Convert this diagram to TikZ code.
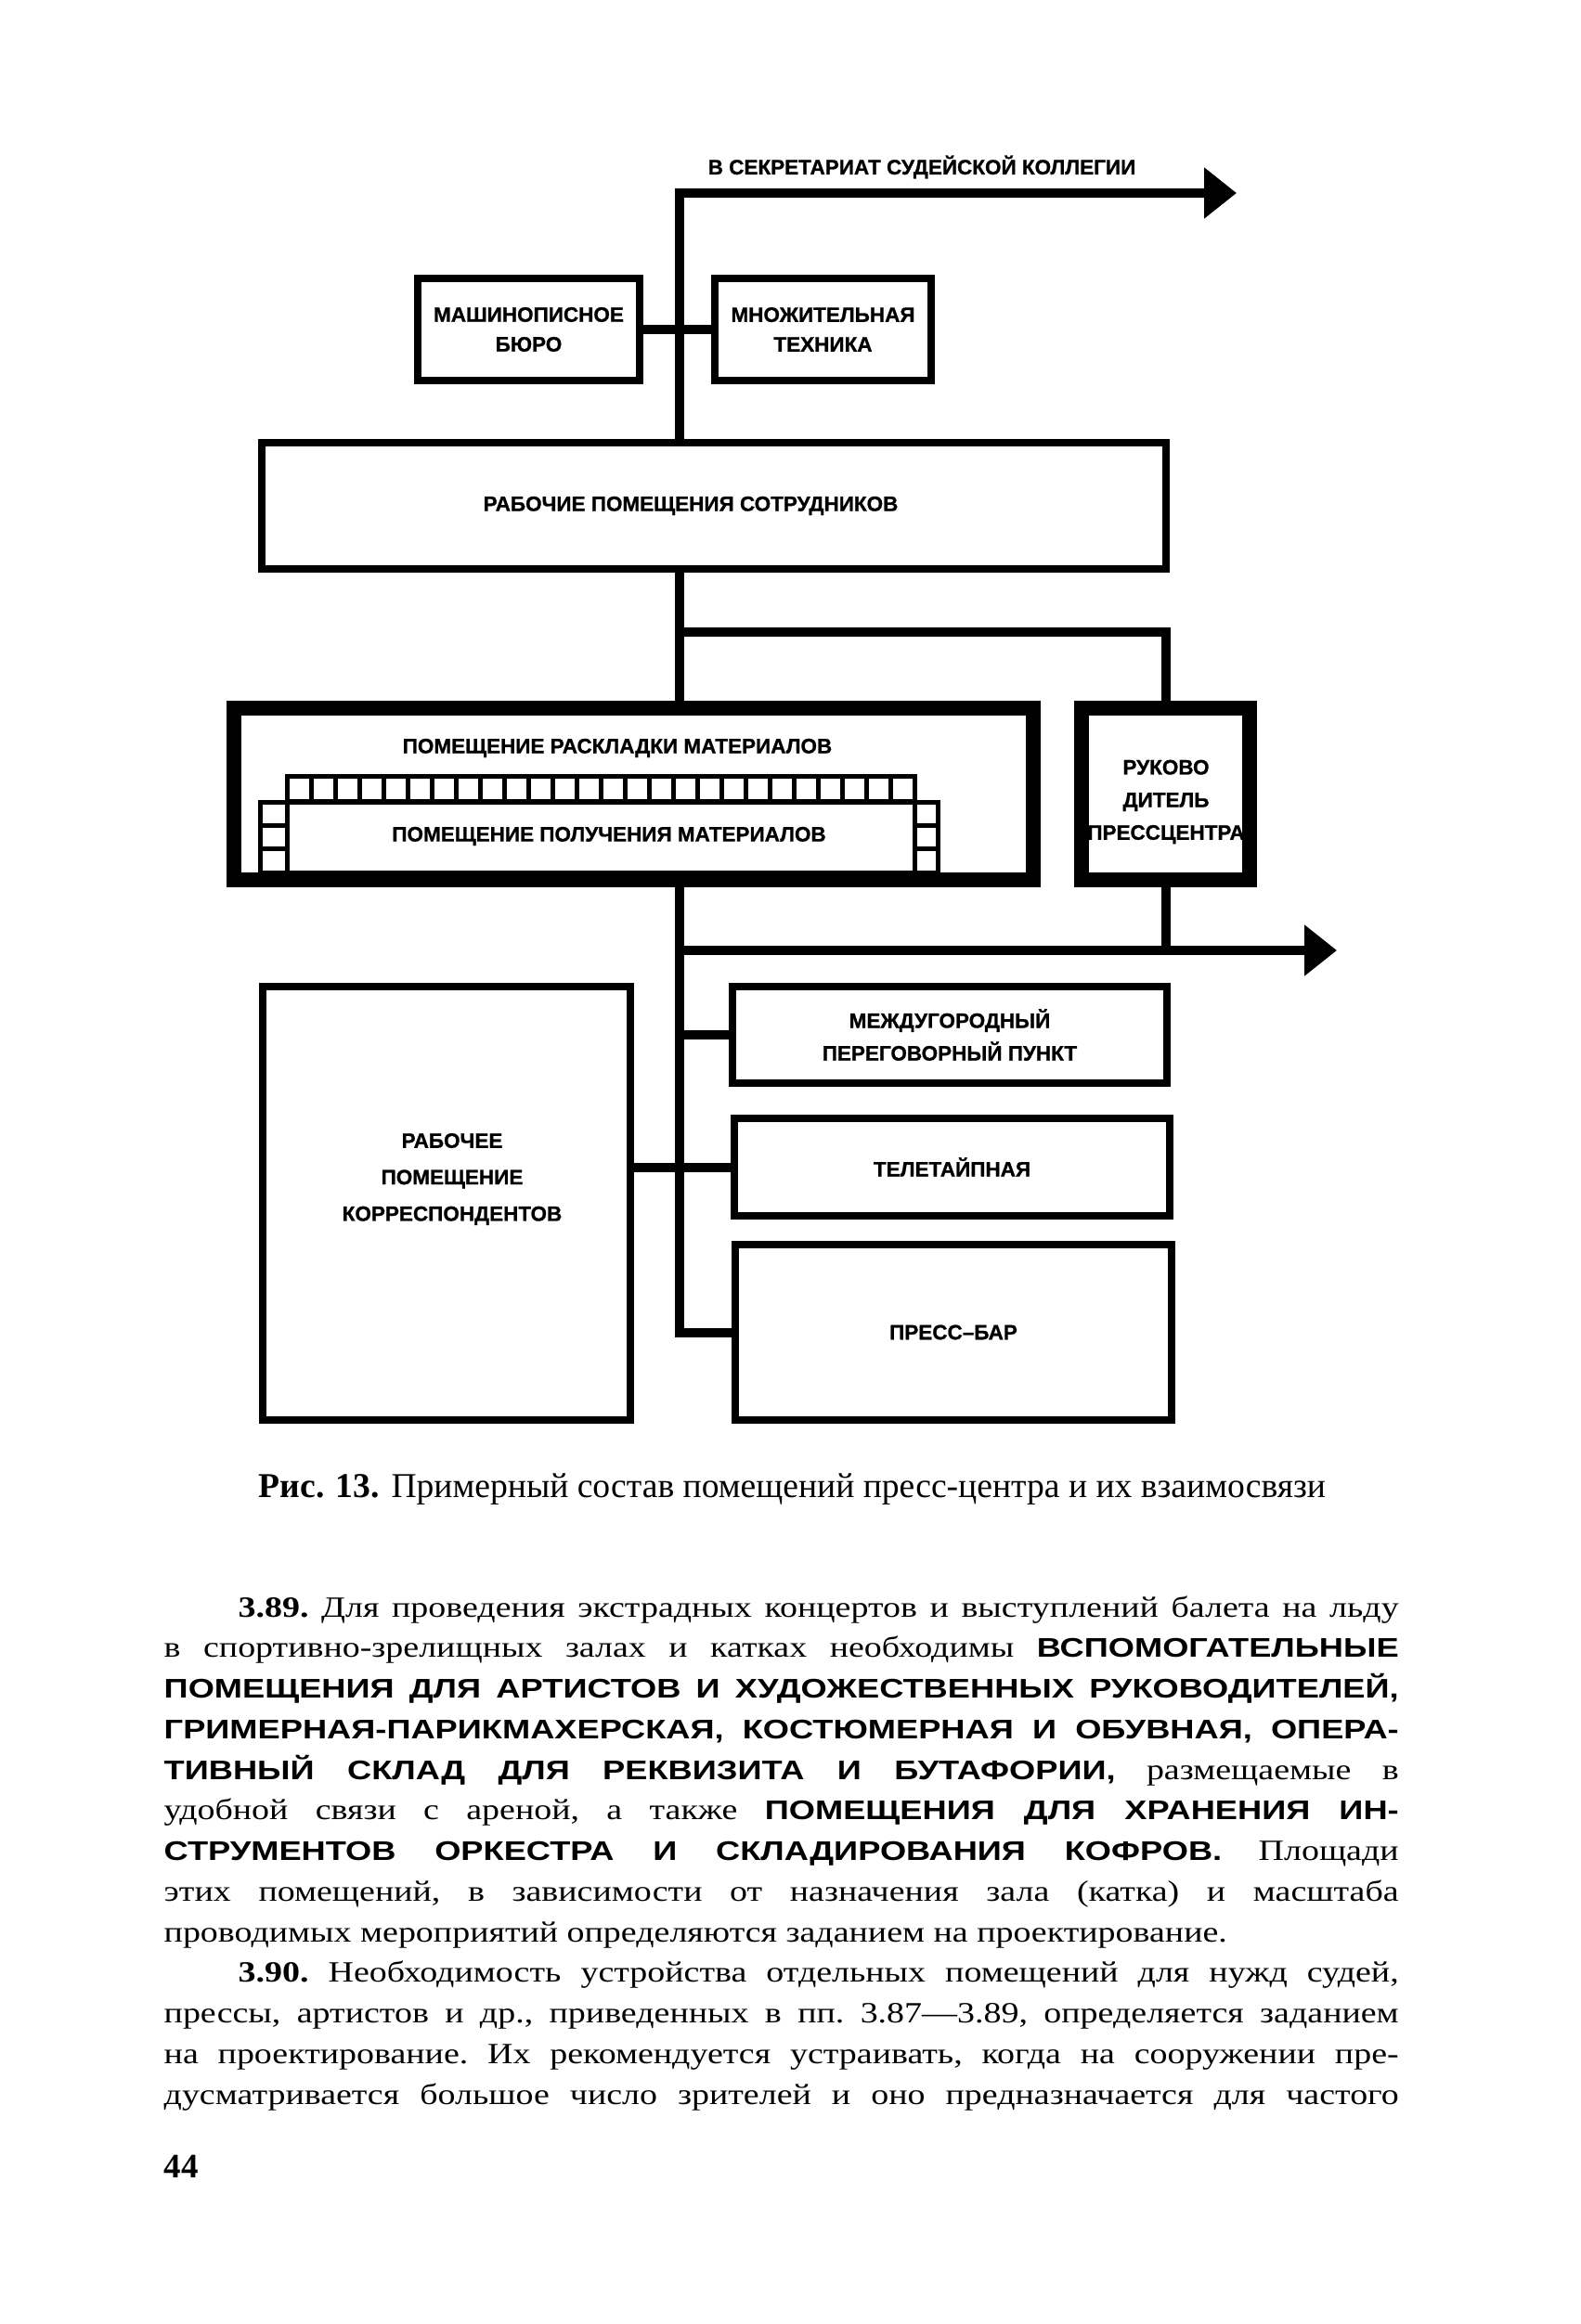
\documentclass[tikz,border=0pt]{standalone}
\usepackage{fontspec}
\setmainfont{Liberation Serif}
\newfontfamily\schemefont[FakeBold=1]{Liberation Sans}
\newfontfamily\bodyfont[FakeStretch=1.2]{Liberation Serif}
\newfontfamily\capsfont[FakeStretch=1.25]{Liberation Sans}
\newcommand\roomcaps[1]{{\capsfont\bfseries\fontsize{8.25}{12.45}\selectfont #1}}
\usetikzlibrary{arrows.meta}
\tikzset{
  every picture/.style={line join=miter},
  room/.style={draw, line width=0.075cm, inner sep=0pt, align=center,
    font=\schemefont\bfseries\fontsize{6.4}{10}\selectfont},
  heavy room/.style={room, line width=0.165cm},
  roomname/.style={inner sep=0pt, align=center,
    font=\schemefont\bfseries\fontsize{6.4}{10}\selectfont},
  cell/.style={line width=0.05cm},
  link/.style={line width=0.1cm},
  exit/.style={link, -{Triangle[length=0.35cm,width=0.53cm]}},
}

\begin{document}
\begin{tikzpicture}
\fill[white] (0,0) rectangle (17.02,-25.04);
% rooms
\node[room, minimum width=2.39cm, minimum height=1.10cm] (typing) at (5.695,-3.55) {МАШИНОПИСНОЕ\\[-0.9pt]БЮРО};
\node[room, minimum width=2.33cm, minimum height=1.10cm] (copying) at (8.865,-3.55) {МНОЖИТЕЛЬНАЯ\\[-0.9pt]ТЕХНИКА};
\node[room, minimum width=9.74cm, minimum height=1.36cm] (staff) at (7.69,-5.45) {};
\node[roomname] (staffname) at (7.44,-5.45) {РАБОЧИЕ ПОМЕЩЕНИЯ СОТРУДНИКОВ};
\node[heavy room, minimum width=8.61cm, minimum height=1.85cm] (layout) at (6.825,-8.555) {};
\node[roomname] (layoutname) at (6.65,-8.06) {ПОМЕЩЕНИЕ РАСКЛАДКИ МАТЕРИАЛОВ};
\node[room, cell, minimum width=7.30cm, minimum height=0.76cm] (recv) at (6.45,-9.02) {};
\node[roomname] (recvname) at (6.56,-9.01) {ПОМЕЩЕНИЕ ПОЛУЧЕНИЯ МАТЕРИАЛОВ};
\node[heavy room, minimum width=1.81cm, minimum height=1.85cm] (head) at (12.555,-8.555) {};
\node[roomname] (headname) at (12.56,-8.64) {РУКОВО\\ДИТЕЛЬ\\ПРЕССЦЕНТРА};
\node[room, minimum width=4.68cm, minimum height=1.04cm] (intercity) at (10.23,-11.15) {МЕЖДУГОРОДНЫЙ\\ПЕРЕГОВОРНЫЙ ПУНКТ};
\node[room, minimum width=4.69cm, minimum height=1.05cm] (teletype) at (10.255,-12.575) {ТЕЛЕТАЙПНАЯ};
\node[room, minimum width=4.70cm, minimum height=1.89cm] (bar) at (10.27,-14.355) {ПРЕСС–БАР};
\node[room, minimum width=3.96cm, minimum height=4.67cm] (corr) at (4.81,-12.965) {};
\node[roomname] (corrname) at (4.87,-12.705) {РАБОЧЕЕ\\[1.2pt]ПОМЕЩЕНИЕ\\[1.2pt]КОРРЕСПОНДЕНТОВ};
\node[roomname] (dest) at (9.93,-1.80) {В СЕКРЕТАРИАТ СУДЕЙСКОЙ КОЛЛЕГИИ};

% cells round the receiving room
\draw[cell] (3.09,-8.37) rectangle (9.85,-8.64);
\foreach \i in {1,...,25}
  \draw[cell] ({3.09+0.26*\i},-8.37) -- ++(0,-0.27);
\draw[cell] (3.09,-8.64) -- (3.09,-9.40) (9.85,-8.64) -- (9.85,-9.40);
\foreach \y in {-8.893,-9.147}
  \draw[cell] (2.80,\y) -- (3.09,\y) (9.85,\y) -- (10.10,\y);

% links
\coordinate (top) at (7.32,-2.08);
\coordinate (destend) at (13.32,-2.08);
\coordinate (fork) at (7.32,-6.81);
\coordinate (outlet) at (14.40,-10.24);
\draw[exit] (top |- staff.north) -- (top) -- (destend);
\draw[link] (typing.east) -- (typing.east -| copying.west);
\draw[link] (staff.south -| top) -- (layout.north -| top);
\draw[link] (fork) -| (head.north);
\draw[link] (layout.south -| top) |- (bar.west);
\draw[exit] (top |- outlet) -- (outlet);
\draw[link] (head.south) -- (head.south |- outlet);
\draw[link] (top |- intercity.west) -- (intercity.west);
\draw[link] (corr.east |- teletype.west) -- (teletype.west);

% caption and text
\node[anchor=base west, inner sep=0pt, font=\fontsize{10.7}{12}\selectfont] (caption) at (2.78,-16.13)
  {\textbf{Рис. 13.} Примерный состав помещений пресс-центра и их взаимосвязи};
\node[anchor=base west, inner sep=0pt, text width=13.30cm, align=justify,
  font=\bodyfont\fontsize{9}{12.45}\selectfont] (body) at (1.76,-17.42) {%
\tolerance=10000\hyphenpenalty=10000\frenchspacing
\hspace*{0.8cm}\textbf{3.89.} Для проведения экстрадных концертов и выступлений балета на льду\linebreak
в спортивно-зрелищных залах и катках необходимы \roomcaps{ВСПОМОГАТЕЛЬНЫЕ}\linebreak
\roomcaps{ПОМЕЩЕНИЯ ДЛЯ АРТИСТОВ И ХУДОЖЕСТВЕННЫХ РУКОВОДИТЕЛЕЙ,}\linebreak
\roomcaps{ГРИМЕРНАЯ-ПАРИКМАХЕРСКАЯ, КОСТЮМЕРНАЯ И ОБУВНАЯ, ОПЕРА-}\linebreak
\roomcaps{ТИВНЫЙ СКЛАД ДЛЯ РЕКВИЗИТА И БУТАФОРИИ,} размещаемые в\linebreak
удобной связи с ареной, а также \roomcaps{ПОМЕЩЕНИЯ ДЛЯ ХРАНЕНИЯ ИН-}\linebreak
\roomcaps{СТРУМЕНТОВ ОРКЕСТРА И СКЛАДИРОВАНИЯ КОФРОВ.} Площади\linebreak
этих помещений, в зависимости от назначения зала (катка) и масштаба\linebreak
проводимых мероприятий определяются заданием на проектирование.\par
\hspace*{0.8cm}\textbf{3.90.} Необходимость устройства отдельных помещений для нужд судей,\linebreak
прессы, артистов и др., приведенных в пп. 3.87—3.89, определяется заданием\linebreak
на проектирование. Их рекомендуется устраивать, когда на сооружении пре-\linebreak
дусматривается большое число зрителей и оно предназначается для частого\parfillskip=0pt\par};
\node[anchor=base west, inner sep=0pt, font=\bfseries\fontsize{10.5}{12}\selectfont] (pageno) at (1.76,-23.46) {44};
\end{tikzpicture}
\end{document}
